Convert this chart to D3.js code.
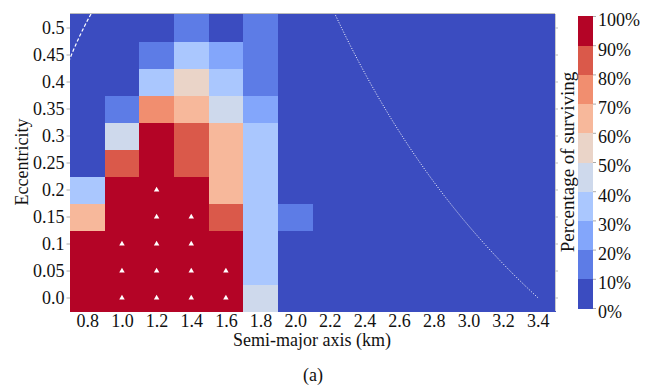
<!DOCTYPE html>
<html>
<head>
<meta charset="utf-8">
<script src="https://cdn.jsdelivr.net/npm/d3@7"></script>
<style>
  body { margin: 0; background: #fff; }
  text { font-family: "Liberation Serif", "Times New Roman", serif; }
</style>
</head>
<body>
<div id="chart"></div>
<script>
// Semi-major axis (km), cell centres
const semiMajor = [0.8, 1.0, 1.2, 1.4, 1.6, 1.8, 2.0, 2.2, 2.4, 2.6, 2.8, 3.0, 3.2, 3.4];
// Eccentricity rows, bottom to top
const eccentricity = [0.0, 0.05, 0.1, 0.15, 0.2, 0.25, 0.3, 0.35, 0.4, 0.45, 0.5];
const eccLabels = ['0.0', '0.05', '0.1', '0.15', '0.2', '0.25', '0.3', '0.35', '0.4', '0.45', '0.5'];
const axisLabels = ['0.8', '1.0', '1.2', '1.4', '1.6', '1.8', '2.0', '2.2', '2.4', '2.6', '2.8', '3.0', '3.2', '3.4'];

// Percentage of surviving, one row per eccentricity (100 = all survived, marked by a triangle)
const e000 = [95, 100, 100, 100, 100, 45, 0, 0, 0, 0, 0, 0, 0, 0];
const e005 = [95, 100, 100, 100, 100, 35, 0, 0, 0, 0, 0, 0, 0, 0];
const e010 = [95, 100, 100, 100, 95, 35, 0, 0, 0, 0, 0, 0, 0, 0];
const e015 = [65, 95, 100, 100, 85, 35, 15, 0, 0, 0, 0, 0, 0, 0];
const e020 = [35, 95, 100, 95, 65, 35, 0, 0, 0, 0, 0, 0, 0, 0];
const e025 = [5, 85, 95, 85, 65, 35, 0, 0, 0, 0, 0, 0, 0, 0];
const e030 = [5, 45, 95, 85, 65, 35, 0, 0, 0, 0, 0, 0, 0, 0];
const e035 = [5, 15, 75, 65, 45, 25, 0, 0, 0, 0, 0, 0, 0, 0];
const e040 = [0, 0, 35, 55, 35, 15, 0, 0, 0, 0, 0, 0, 0, 0];
const e045 = [0, 0, 15, 35, 25, 15, 0, 0, 0, 0, 0, 0, 0, 0];
const e050 = [0, 0, 0, 15, 0, 15, 0, 0, 0, 0, 0, 0, 0, 0];
const survival = [e000, e005, e010, e015, e020, e025, e030, e035, e040, e045, e050];

// Colour bar ticks
const pctTicks = [0, 10, 20, 30, 40, 50, 60, 70, 80, 90, 100];

// Boundary curves: pericentre a(1-e) and apocentre a(1+e) limits (km)
const periLimit = 0.39;
const apoLimit = 3.4;

const width = 657;
const height = 386;
const plot = { left: 70, right: 555, top: 14, bottom: 311 };

// coolwarm, 10 discrete levels
const palette = ['#3b4cc0', '#5d7ce6', '#83a6fb', '#aac7fe', '#ced9ec',
                 '#ead4c8', '#f7b89b', '#f18e6f', '#da594a', '#b40426'];

const xScale = d3.scaleLinear().domain([0.7, 3.5]).range([plot.left, plot.right]);
const yScale = d3.scaleLinear().domain([-0.025, 0.525]).range([plot.bottom, plot.top]);
const color = d3.scaleThreshold().domain(pctTicks.slice(1, -1)).range(palette);

const svg = d3.select('#chart')
    .append('svg')
    .attr('width', width)
    .attr('height', height)
    .style('background', '#fff');

// flatten grid into cells
const cells = [];
survival.forEach((row, i) => {
    row.forEach((v, j) => cells.push({ a: semiMajor[j], e: eccentricity[i], v: v }));
});

svg.append('g')
    .attr('shape-rendering', 'crispEdges')
    .selectAll('rect')
    .data(cells)
    .enter()
    .append('rect')
    .attr('x', d => xScale(d.a - 0.1))
    .attr('y', d => yScale(d.e + 0.025))
    .attr('width', d => xScale(d.a + 0.1) - xScale(d.a - 0.1) + 0.5)
    .attr('height', d => yScale(d.e - 0.025) - yScale(d.e + 0.025) + 0.5)
    .attr('fill', d => color(d.v));

// triangles where everything survived
svg.append('g')
    .selectAll('path')
    .data(cells.filter(d => d.v === 100))
    .enter()
    .append('path')
    .attr('d', d3.symbol().type(d3.symbolTriangle).size(13))
    .attr('transform', d => `translate(${xScale(d.a)},${yScale(d.e) + 0.5})`)
    .attr('fill', '#fff');

// boundary curves, clipped to the plot
svg.append('clipPath').attr('id', 'clip')
    .append('rect')
    .attr('x', plot.left).attr('y', plot.top)
    .attr('width', plot.right - plot.left).attr('height', plot.bottom - plot.top);

const eSamples = d3.range(0, 0.531, 0.005);
const curve = d3.line().x(d => xScale(d[0])).y(d => yScale(d[1]));

svg.append('path')
    .datum(eSamples.map(e => [periLimit / (1 - e), e]))
    .attr('clip-path', 'url(#clip)')
    .attr('d', curve)
    .attr('fill', 'none')
    .attr('stroke', '#fff')
    .attr('stroke-width', 1.2)
    .attr('stroke-dasharray', '3.5,2');

svg.append('path')
    .datum(eSamples.map(e => [apoLimit / (1 + e), e]))
    .attr('clip-path', 'url(#clip)')
    .attr('d', curve)
    .attr('fill', 'none')
    .attr('stroke', '#fff')
    .attr('stroke-width', 1)
    .attr('stroke-dasharray', '1,1.6');

// frame: light top and right spines
svg.append('line')
    .attr('x1', plot.left).attr('x2', plot.right)
    .attr('y1', plot.top - 0.5).attr('y2', plot.top - 0.5)
    .attr('stroke', '#bbb');
svg.append('line')
    .attr('x1', plot.right + 0.5).attr('x2', plot.right + 0.5)
    .attr('y1', plot.top).attr('y2', plot.bottom)
    .attr('stroke', '#ccc');

// axes
const yAxis = d3.axisLeft(yScale)
    .tickValues(eccentricity)
    .tickFormat((d, i) => eccLabels[i])
    .tickSize(3.5)
    .tickSizeOuter(0);

const yg = svg.append('g')
    .attr('transform', `translate(${plot.left}, 0)`)
    .call(yAxis);
yg.select('.domain').remove();
yg.selectAll('line').attr('stroke', '#aaa');
yg.selectAll('text').attr('x', -5.5);

const yRight = svg.append('g')
    .attr('transform', `translate(${plot.right}, 0)`)
    .call(d3.axisRight(yScale).tickValues(eccentricity).tickFormat('').tickSize(3));
yRight.select('.domain').remove();
yRight.selectAll('line').attr('stroke', '#bbb');

const xAxis = d3.axisBottom(xScale)
    .tickValues(semiMajor)
    .tickFormat((d, i) => axisLabels[i])
    .tickSize(0)
    .tickPadding(3);

const xg = svg.append('g')
    .attr('transform', `translate(0, ${plot.bottom})`)
    .call(xAxis);
xg.select('.domain').remove();

svg.selectAll('.tick text')
    .style('font-family', '"Liberation Serif", "Times New Roman", serif')
    .style('font-size', '18px')
    .attr('fill', '#111');

// axis titles
svg.append('text')
    .attr('x', 312).attr('y', 346)
    .attr('text-anchor', 'middle')
    .style('font-size', '18px')
    .attr('fill', '#111')
    .text('Semi-major axis (km)');

svg.append('text')
    .attr('transform', 'translate(28, 162) rotate(-90)')
    .attr('text-anchor', 'middle')
    .style('font-size', '18px')
    .attr('fill', '#111')
    .text('Eccentricity');

svg.append('text')
    .attr('x', 313).attr('y', 381)
    .attr('text-anchor', 'middle')
    .style('font-size', '18px')
    .attr('fill', '#111')
    .text('(a)');

// colour bar
const cbar = { x: 578, w: 15, top: 16, bottom: 308 };
const cScale = d3.scaleLinear().domain([0, 100]).range([cbar.bottom, cbar.top]);

svg.append('g')
    .attr('shape-rendering', 'crispEdges')
    .selectAll('rect')
    .data(palette)
    .enter()
    .append('rect')
    .attr('x', cbar.x)
    .attr('y', (d, i) => cScale((i + 1) * 10))
    .attr('width', cbar.w)
    .attr('height', (d, i) => cScale(i * 10) - cScale((i + 1) * 10) + 0.5)
    .attr('fill', d => d);

const cg = svg.append('g')
    .attr('transform', `translate(${cbar.x + cbar.w}, 0)`)
    .call(d3.axisRight(cScale).tickValues(pctTicks).tickFormat(d => d + '%').tickSize(3).tickPadding(2));
cg.select('.domain').remove();
cg.selectAll('line').attr('stroke', '#aaa');
cg.selectAll('text')
    .attr('dy', '0.55em')
    .style('font-family', '"Liberation Serif", "Times New Roman", serif')
    .style('font-size', '18px')
    .attr('fill', '#111');

svg.append('text')
    .attr('transform', 'translate(574, 162) rotate(-90)')
    .attr('text-anchor', 'middle')
    .style('font-size', '19px')
    .attr('fill', '#111')
    .text('Percentage of surviving');
</script>
</body>
</html>
